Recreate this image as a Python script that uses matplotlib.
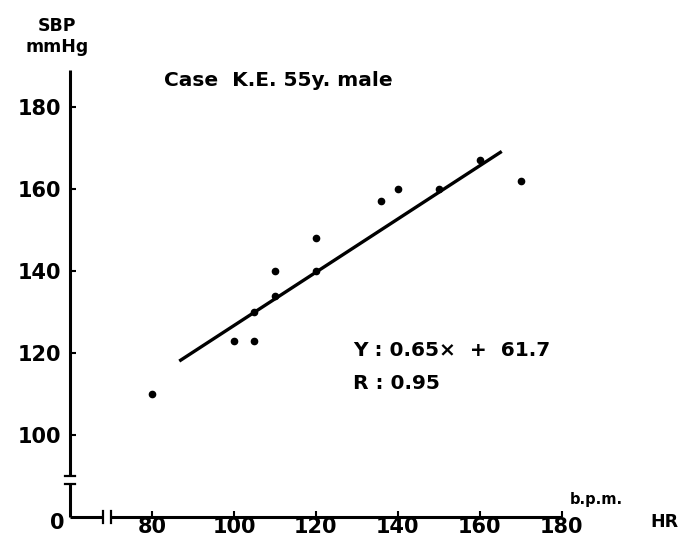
import matplotlib
matplotlib.use("Agg")
import matplotlib.pyplot as plt
import numpy as np

# heart rate (bpm) and systolic blood pressure (mmHg)
hr = [80, 100, 105, 105, 110, 110, 120, 120, 136, 140, 150, 160, 170]
sbp = [110, 123, 123, 130, 134, 140, 148, 140, 157, 160, 160, 167, 162]

# regression line Y = 0.65x + 61.7
slope = 0.65
intercept = 61.7
fit_x = [87, 165]

x_ticks = [80, 100, 120, 140, 160, 180]
y_ticks = [100, 120, 140, 160, 180]

plt.rcParams['font.family'] = ['DejaVu Sans']
plt.rcParams['font.weight'] = 'bold'

fig = plt.figure(figsize=(6.81, 5.48), dpi=100)
ax = fig.add_axes([0.1028, 0.0566, 0.825 - 0.1028, 0.872 - 0.0566])
ax.set_xlim(60, 180)
ax.set_ylim(80, 189)

for s in ax.spines.values():
    s.set_visible(False)

lw = 2.2
# broken axes drawn by hand
ax.plot([60, 68], [80, 80], color='black', lw=lw, clip_on=False, solid_capstyle='butt')
ax.plot([70, 180], [80, 80], color='black', lw=lw, clip_on=False, solid_capstyle='butt')
ax.plot([68, 68], [78.5, 81.5], color='black', lw=1.6, clip_on=False)
ax.plot([70, 70], [78.5, 81.5], color='black', lw=1.6, clip_on=False)
ax.plot([60, 60], [80, 88], color='black', lw=lw, clip_on=False, solid_capstyle='butt')
ax.plot([60, 60], [90, 189], color='black', lw=lw, clip_on=False, solid_capstyle='butt')
ax.plot([58.8, 61.2], [88, 88], color='black', lw=1.6, clip_on=False)
ax.plot([58.8, 61.2], [90, 90], color='black', lw=1.6, clip_on=False)

ax.set_xticks(x_ticks)
ax.set_yticks(y_ticks)
ax.tick_params(axis='both', direction='in', length=4, width=1.5, labelsize=15)
ax.tick_params(axis='y', pad=6)
ax.tick_params(axis='x', pad=0)

ax.plot(hr, sbp, 'o', color='black', markersize=4.5, clip_on=False)
fx = np.array(fit_x)
ax.plot(fx, slope * fx + intercept, color='black', lw=2.4)

ax.text(56.8, 78.6, '0', fontsize=15, ha='center', va='center', clip_on=False)
ax.text(-0.026, 1.075, 'SBP\nmmHg', transform=ax.transAxes, fontsize=12.5,
        ha='center', va='center', linespacing=1.25)
ax.text(83, 186.4, 'Case  K.E. 55y. male', fontsize=14.5, ha='left', va='center')
ax.text(129, 120.6, 'Y : 0.65\u00d7  +  61.7', fontsize=14.5, ha='left', va='center')
ax.text(129, 112.6, 'R : 0.95', fontsize=14.5, ha='left', va='center')
ax.text(182, 82.5, 'b.p.m.', fontsize=10.5, ha='left', va='bottom', clip_on=False)
ax.text(208.5, 78.8, 'HR', fontsize=12.5, ha='right', va='center', clip_on=False)

fig.savefig('out.png', dpi=100)
